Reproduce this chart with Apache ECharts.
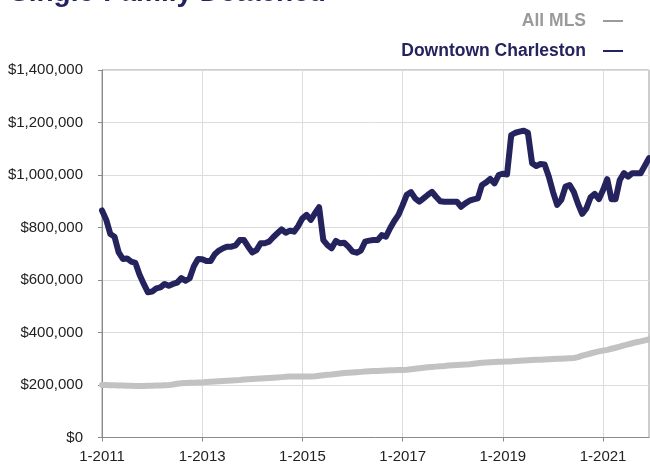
<!DOCTYPE html>
<html>
<head>
<meta charset="utf-8">
<script src="https://cdn.jsdelivr.net/npm/echarts@6/dist/echarts.min.js"></script>
<style>
html,body{margin:0;padding:0;background:#fff;}
#chart{width:650px;height:466px;}
</style>
</head>
<body>
<div id="chart"></div>
<script>
// Monthly categories, 1-2011 .. 12-2021
var startYear = 2011;
var monthCount = 132;
var categories = [];
for (var k = 0; k < monthCount; k++) {
  categories.push(((k % 12) + 1) + '-' + (startYear + Math.floor(k / 12)));
}

var titleText = 'Single-Family Detached';
var seriesNames = ['All MLS', 'Downtown Charleston'];

// All MLS median price (thousands of $)
var allMLS = [
  200,200,199,199,198,198,197,197,196,196,196,197,
  197,198,198,199,200,202,205,207,208,209,209,210,
  210,211,212,213,214,215,216,217,218,219,221,222,
  223,224,225,226,227,228,229,230,231,232,232,232,
  232,232,232,233,235,237,239,240,242,244,246,247,
  248,249,250,251,252,253,253,254,255,256,256,257,
  257,258,260,262,264,266,268,269,270,271,272,274,
  275,276,277,278,279,281,283,285,286,287,288,289,
  289,290,290,291,292,293,294,295,296,296,297,298,
  299,300,300,301,302,303,306,312,316,320,324,328,
  331,334,338,342,346,351,355,359,363,366,370,374
];

// Downtown Charleston median price (thousands of $)
var downtown = [
  865,830,775,765,705,680,682,670,665,620,585,553,
  556,568,572,585,578,585,590,607,597,607,652,680,
  679,672,672,698,712,721,727,727,732,752,752,727,
  705,714,740,740,746,763,778,793,780,788,784,806,
  835,848,829,854,877,752,733,721,749,740,742,727,
  708,704,712,746,750,752,752,771,765,797,825,848,
  885,925,935,911,898,911,924,936,917,900,898,898,
  898,898,879,892,902,907,911,962,972,985,968,1000,
  1005,1002,1152,1161,1165,1169,1161,1045,1034,1042,1040,994,
  936,886,905,956,962,935,890,852,873,915,928,908,
  943,984,908,908,981,1007,994,1007,1007,1007,1035,1064
];

var yMin = 0, yMax = 1400000, yStep = 200000;
var labelEvery = 24;

var navy = '#25235e';
var gray = '#c2c2c2';
var legendGray = '#9a9a9a';

function toDollars(arr) { return arr.map(function (v) { return v * 1000; }); }

var chart = echarts.init(document.getElementById('chart'), null, {renderer: 'canvas'});
chart.setOption({
  animation: false,
  backgroundColor: '#fff',
  title: {
    text: titleText,
    left: 5,
    top: -26,
    textStyle: {fontFamily: 'Liberation Sans, Arial, sans-serif', fontSize: 28, fontWeight: 'bold', color: navy}
  },
  legend: {
    orient: 'vertical',
    right: 22,
    top: 7,
    align: 'right',
    itemWidth: 20,
    itemHeight: 2,
    itemGap: 12,
    icon: 'rect',
    data: [
      {name: seriesNames[0], itemStyle: {color: legendGray}, textStyle: {color: legendGray}},
      {name: seriesNames[1], itemStyle: {color: navy}, textStyle: {color: navy}}
    ],
    textStyle: {
      fontFamily: 'Liberation Sans, Arial, sans-serif',
      fontSize: 17.5,
      fontWeight: 'bold',
      padding: [0, 12, 0, 0]
    }
  },
  grid: {
    left: 102, right: 1, top: 70, bottom: 28.5,
    show: true, borderColor: '#9a9a9a', borderWidth: 1
  },
  xAxis: {
    type: 'category',
    data: categories,
    boundaryGap: false,
    axisLine: {lineStyle: {color: '#8a8a8a', width: 1}},
    axisTick: {show: true, interval: labelEvery - 1, length: 4, lineStyle: {color: '#8a8a8a'}},
    axisLabel: {
      interval: labelEvery - 1,
      margin: 12,
      color: '#222',
      fontFamily: 'Liberation Sans, Arial, sans-serif',
      fontSize: 15
    },
    splitLine: {show: true, interval: labelEvery - 1, lineStyle: {color: '#dcdcdc', width: 1}}
  },
  yAxis: {
    type: 'value',
    min: yMin, max: yMax, interval: yStep,
    axisLine: {show: true, lineStyle: {color: '#8a8a8a', width: 1}},
    axisTick: {show: true, length: 4, lineStyle: {color: '#8a8a8a'}},
    axisLabel: {
      margin: 19,
      color: '#222',
      fontFamily: 'Liberation Sans, Arial, sans-serif',
      fontSize: 15,
      formatter: function (v) { return '$' + v.toLocaleString('en-US'); }
    },
    splitLine: {show: true, lineStyle: {color: '#dcdcdc', width: 1}}
  },
  series: [
    {
      name: seriesNames[0], type: 'line', data: toDollars(allMLS),
      showSymbol: false, symbol: 'none',
      lineStyle: {color: gray, width: 6, join: 'round', cap: 'round'},
      itemStyle: {color: gray}, z: 2
    },
    {
      name: seriesNames[1], type: 'line', data: toDollars(downtown),
      showSymbol: false, symbol: 'none',
      lineStyle: {color: navy, width: 6, join: 'round', cap: 'round'},
      itemStyle: {color: navy}, z: 3
    }
  ]
});
</script>
</body>
</html>
